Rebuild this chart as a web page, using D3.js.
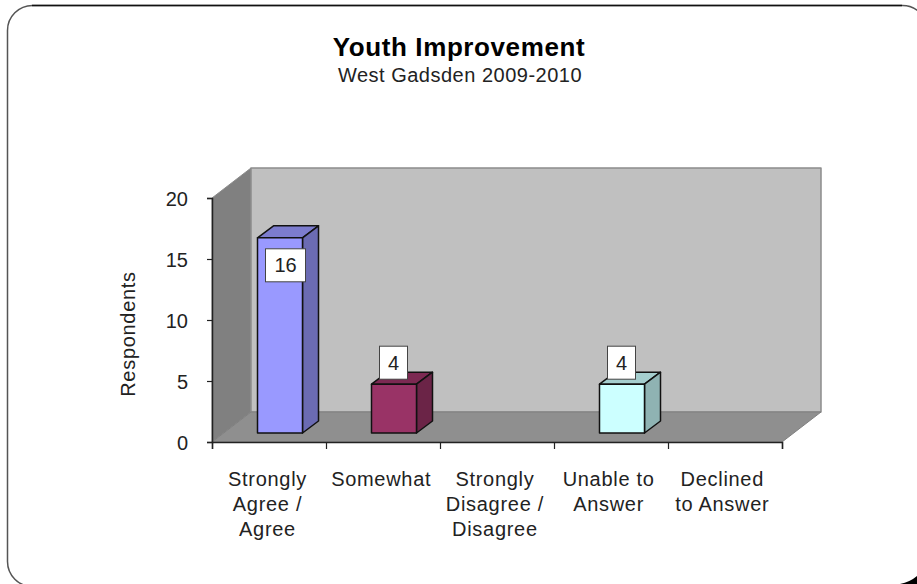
<!DOCTYPE html>
<html>
<head>
<meta charset="utf-8">
<script src="https://cdn.jsdelivr.net/npm/d3@7"></script>
<style>
  html, body { margin: 0; padding: 0; background: #fff; overflow: hidden; }
  text { font-family: "Liberation Sans", Arial, sans-serif; fill: #222; }
</style>
</head>
<body>
<div id="chart"></div>
<script>
const categories = [
  ["Strongly", "Agree /", "Agree"],
  ["Somewhat"],
  ["Strongly", "Disagree /", "Disagree"],
  ["Unable to", "Answer"],
  ["Declined", "to Answer"],
];
const values = [16, 4, 0, 4, 0];
const barColors = ["#9999ff", "#993366", null, "#ccffff", null];
const yTicks = [0, 5, 10, 15, 20];

const width = 917, height = 584;
const depth = { x: 39, y: 30 };     // wall offset of the 3d box
const barDepth = { x: 16, y: 12 };  // depth of each bar
const barInset = { x: 11, y: 9 };   // bar front sits a little behind the front edge
const barWidth = 45;
const labelSpacing = "0.7px";

const svg = d3.select("#chart").append("svg")
  .attr("width", width)
  .attr("height", height);

// frame, runs off the right and bottom of the picture
svg.append("rect")
  .attr("x", 7.5).attr("y", 5.5)
  .attr("width", 920).attr("height", 581)
  .attr("rx", 25).attr("ry", 25)
  .attr("fill", "#fff")
  .attr("stroke", "#555")
  .attr("stroke-width", 1.5);
svg.append("path")
  .attr("d", "M32,5.5H902")
  .attr("stroke", "#111")
  .attr("stroke-width", 1.5);
// dark corner at the bottom right
svg.append("path")
  .attr("d", "M900,584Q910,582 917,576V584Z")
  .attr("fill", "#000");

const x = d3.scaleBand().domain(d3.range(categories.length)).range([212, 782]);
const y = d3.scaleLinear().domain([0, 20]).range([442, 198]);

const line = d3.line();
const poly = (pts, fill, stroke, sw) => svg.append("path")
  .attr("d", line(pts) + "Z")
  .attr("fill", fill)
  .attr("stroke", stroke || "none")
  .attr("stroke-width", sw || 1)
  .attr("stroke-linejoin", "round");

const x0 = x.range()[0], x1 = x.range()[1];
const yb = y(0), yt = y(20);

// side wall, back wall, floor
poly([[x0, yb], [x0, yt], [x0 + depth.x, yt - depth.y], [x0 + depth.x, yb - depth.y]], "#808080", "#8c8c8c");
poly([[x0 + depth.x, yt - depth.y], [x1 + depth.x, yt - depth.y], [x1 + depth.x, yb - depth.y], [x0 + depth.x, yb - depth.y]], "#c0c0c0", "#8c8c8c", 1.5);
poly([[x0, yb], [x0 + depth.x, yb - depth.y], [x1 + depth.x, yb - depth.y], [x1, yb]], "#8f8f8f", "#808080");

// bars
values.forEach((v, i) => {
  if (!v) return;
  const c = barColors[i];
  const left = x(i) + (x.bandwidth() - barWidth) / 2 + barInset.x;
  const right = left + barWidth;
  const bottom = y(0) - barInset.y;
  const top = y(v) - barInset.y;
  const stroke = "#111";
  poly([[left, top], [left + barDepth.x, top - barDepth.y], [right + barDepth.x, top - barDepth.y], [right, top]], d3.rgb(c).darker(0.6).formatHex(), stroke, 1.5);
  poly([[right, top], [right + barDepth.x, top - barDepth.y], [right + barDepth.x, bottom - barDepth.y], [right, bottom]], d3.rgb(c).darker(1).formatHex(), stroke, 1.5);
  poly([[left, top], [right, top], [right, bottom], [left, bottom]], c, stroke, 1.5);
});

// axes
const yAxis = svg.append("g")
  .attr("transform", `translate(${x0},0)`)
  .call(d3.axisLeft(y).tickValues(yTicks).tickSize(5).tickPadding(19));
const xAxis = svg.append("g")
  .attr("transform", `translate(0,${yb})`)
  .call(d3.axisBottom(d3.scaleLinear().domain([0, 5]).range([x0, x1])).ticks(5).tickSize(7).tickFormat(""));
[yAxis, xAxis].forEach(a => {
  a.select(".domain").attr("stroke", "#222").attr("stroke-width", 1.5);
  a.selectAll("line").attr("stroke", "#222").attr("stroke-width", 1.2);
});
yAxis.selectAll("text")
  .attr("dy", "0.36em")
  .style("font-family", "'Liberation Sans', Arial, sans-serif")
  .style("font-size", "20px")
  .attr("fill", "#222");

// category labels
categories.forEach((lines, i) => {
  lines.forEach((t, j) => {
    svg.append("text")
      .attr("x", x(i) + x.bandwidth() / 2 - 1.5 - i * 0.3)
      .attr("y", 485.5 + j * 25)
      .attr("text-anchor", "middle")
      .style("font-size", "20px")
      .style("letter-spacing", labelSpacing)
      .text(t);
  });
});

// value labels
values.forEach((v, i) => {
  if (!v) return;
  const cx = x(i) + x.bandwidth() / 2 + barInset.x + (v > 10 ? 5.5 : -0.5);
  const cy = v > 10 ? y(v) + 18.5 : y(v) - 30.5;
  const w = v > 10 ? 40 : 28, h = 33;
  svg.append("rect")
    .attr("x", cx - w / 2).attr("y", cy - h / 2)
    .attr("width", w).attr("height", h)
    .attr("fill", "#fff")
    .attr("stroke", "#444");
  svg.append("text")
    .attr("x", cx).attr("y", cy + 7)
    .attr("text-anchor", "middle")
    .style("font-size", "20px")
    .text(v);
});

// titles
svg.append("text")
  .attr("x", 459).attr("y", 55.5)
  .attr("text-anchor", "middle")
  .style("font-size", "26px").style("font-weight", "bold")
  .style("letter-spacing", "0.6px")
  .style("fill", "#000")
  .text("Youth Improvement");
svg.append("text")
  .attr("x", 460).attr("y", 82)
  .attr("text-anchor", "middle")
  .style("font-size", "20px")
  .style("letter-spacing", "0.5px")
  .text("West Gadsden 2009-2010");
svg.append("text")
  .attr("transform", "translate(135,334) rotate(-90)")
  .attr("text-anchor", "middle")
  .style("font-size", "20px")
  .style("letter-spacing", "0.7px")
  .text("Respondents");
</script>
</body>
</html>
